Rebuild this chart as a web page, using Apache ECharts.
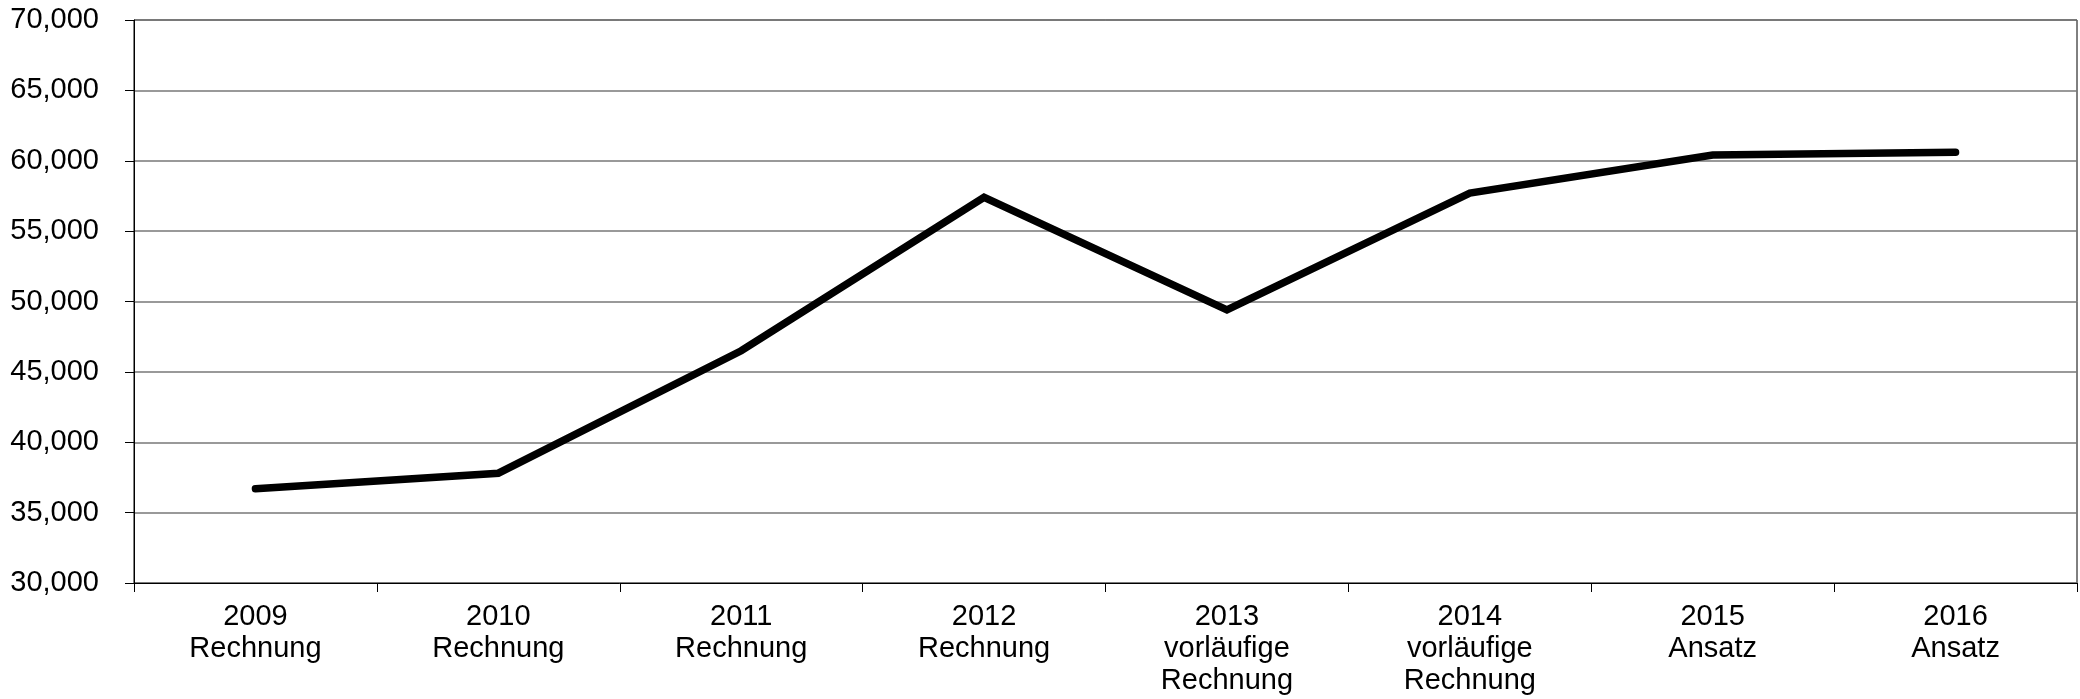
<!DOCTYPE html>
<html><head><meta charset="utf-8">
<script src="https://cdn.jsdelivr.net/npm/echarts@6/dist/echarts.min.js"></script>
<style>html,body{margin:0;padding:0;background:#fff}#c{width:2080px;height:699px}</style>
</head><body><div id="c"></div>
<script>
const categories = ['2009\nRechnung','2010\nRechnung','2011\nRechnung','2012\nRechnung','2013\nvorläufige\nRechnung','2014\nvorläufige\nRechnung','2015\nAnsatz','2016\nAnsatz'];
const values = [36700, 37800, 46500, 57400, 49400, 57700, 60400, 60600];
const yMin = 30000, yMax = 70000, yStep = 5000;

const chart = echarts.init(document.getElementById('c'));
const font = '"Liberation Sans", Arial, sans-serif';
chart.setOption({
  animation: false,
  backgroundColor: '#fff',
  grid: {left: 134, right: 3, top: 20, bottom: 116, show: true, borderColor: '#000', borderWidth: 1, containLabel: false},
  xAxis: {
    type: 'category', data: categories, boundaryGap: true,
    axisLine: {lineStyle: {color: '#000', width: 1}},
    axisTick: {show: true, length: 9, lineStyle: {color: '#000'}},
    axisLabel: {color: '#000', fontFamily: font, fontSize: 29, lineHeight: 32, margin: 18, interval: 0}
  },
  yAxis: {
    type: 'value', min: yMin, max: yMax, interval: yStep,
    axisLine: {show: true, lineStyle: {color: '#000', width: 1}},
    axisTick: {show: true, length: 9, lineStyle: {color: '#000'}},
    axisLabel: {color: '#000', fontFamily: font, fontSize: 29, margin: 35,
      formatter: v => v.toLocaleString('en-US')},
    splitLine: {show: true, lineStyle: {color: '#777', width: 1.5}}
  },
  series: [{
    type: 'line', data: values, symbol: 'none',
    lineStyle: {color: '#000', width: 7.5, cap: 'round', join: 'miter'}
  }]
});
</script></body></html>
